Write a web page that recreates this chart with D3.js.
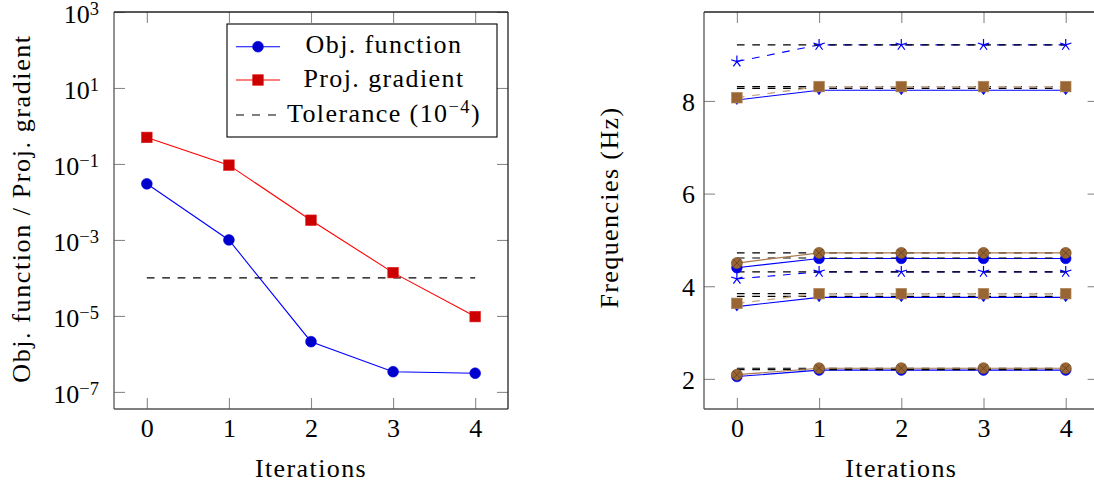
<!DOCTYPE html>
<html><head><meta charset="utf-8">
<script src="https://cdn.jsdelivr.net/npm/d3@7"></script>
<style>
html,body{margin:0;padding:0;background:#fff;}
svg{display:block;}
text{font-family:"Liberation Serif","Times New Roman",serif;fill:#000;}
.word{letter-spacing:1.4px;}
</style></head>
<body>
<svg id="chart" width="1094" height="485"></svg>
<script>
// ---------- data ----------
const iterations = [0, 1, 2, 3, 4];
const objFunction = [3.0e-2, 1.0e-3, 2.1e-6, 3.4e-7, 3.1e-7];
const projGradient = [0.5, 0.093, 3.3e-3, 1.38e-4, 9.6e-6];
const tolerance = 1e-4;
const logTickExponents = [3, 1, -1, -3, -5, -7];

const freqTicks = [2, 4, 6, 8];
// blue model
const blueCircleModes = [
  [2.05, 2.19, 2.19, 2.19, 2.19],
  [4.40, 4.60, 4.60, 4.60, 4.60]
];
const blueDiamondModes = [
  [3.56, 3.76, 3.76, 3.76, 3.76],
  [8.02, 8.23, 8.23, 8.23, 8.23]
];
const blueStarModes = [
  [4.16, 4.31, 4.31, 4.31, 4.31],
  [8.85, 9.21, 9.21, 9.21, 9.21]
];
// brown model
const brownOtimesModes = [
  [2.09, 2.23, 2.23, 2.23, 2.23],
  [4.50, 4.72, 4.72, 4.72, 4.72]
];
const brownSquareModes = [
  [3.63, 3.84, 3.84, 3.84, 3.84],
  [8.07, 8.31, 8.31, 8.31, 8.31]
];
// target frequencies (black dashed)
const targetFreqs = [2.23, 2.20, 3.84, 3.78, 4.31, 4.72, 4.61, 8.31, 8.27, 9.21];

// ---------- setup ----------
const svg = d3.select("#chart");
const TICK = 11;
const dashA = "7.7,7.7";
const BLUE = "#0000ff", BLUEF = "#0000cc", RED = "#ff0000", REDF = "#cc0000";
const BROWNF = "#996633", BROWND = "#5e3f1f", TAN = "#c8a882";

function frame(g, x0, x1, y0, y1) {
  g.append("line").attr("x1", x0).attr("x2", x0).attr("y1", y0).attr("y2", y1).attr("stroke", "#555").attr("stroke-width", 1.3);
  g.append("line").attr("x1", x0).attr("x2", x1).attr("y1", y1).attr("y2", y1).attr("stroke", "#555").attr("stroke-width", 1.3);
  g.append("line").attr("x1", x0).attr("x2", x1).attr("y1", y0).attr("y2", y0).attr("stroke", "#222").attr("stroke-width", 1.3);
  g.append("line").attr("x1", x1).attr("x2", x1).attr("y1", y0).attr("y2", y1).attr("stroke", "#222").attr("stroke-width", 1.3);
}
function styleAxis(sel) {
  sel.select(".domain").remove();
  sel.selectAll(".tick line").attr("stroke", "#8a8a8a").attr("stroke-width", 1.1);
  sel.selectAll(".tick text").attr("font-size", 26).attr("font-family", "Liberation Serif, serif").attr("fill", "#000");
}
function starPath(r) {
  let p = "";
  for (let k = 0; k < 5; k++) {
    const a = -Math.PI / 2 + k * 2 * Math.PI / 5;
    p += `M0,0L${(r * Math.cos(a)).toFixed(2)},${(r * Math.sin(a)).toFixed(2)}`;
  }
  return p;
}

// ================= LEFT CHART =================
const L = {x0: 114, x1: 508, y0: 12, y1: 409};
const xL = d3.scaleLinear().domain([-0.4, 4.4]).range([L.x0, L.x1]);
const yL = d3.scaleLog().domain([Math.pow(10, -7.45), 1e3]).range([L.y1, L.y0]);
const gL = svg.append("g");

const logTicks = logTickExponents.map(e => Math.pow(10, e));
const axB = gL.append("g").attr("transform", `translate(0,${L.y1})`)
  .call(d3.axisBottom(xL).tickValues(iterations).tickSize(-TICK).tickPadding(9.5).tickFormat(d3.format("d")));
styleAxis(axB);
const axT = gL.append("g").attr("transform", `translate(0,${L.y0})`)
  .call(d3.axisTop(xL).tickValues(iterations).tickSize(-TICK).tickFormat(""));
styleAxis(axT);
const axLft = gL.append("g").attr("transform", `translate(${L.x0},0)`)
  .call(d3.axisLeft(yL).tickValues(logTicks).tickSize(-TICK).tickPadding(15).tickFormat(""));
styleAxis(axLft);
axLft.selectAll(".tick text").attr("dy", "0.42em").each(function(d) {
  const t = d3.select(this);
  const e = Math.round(Math.log10(d));
  t.text(null);
  t.append("tspan").text("10");
  t.append("tspan").attr("dy", -8).attr("font-size", 18.5).text(e < 0 ? "\u2212" + (-e) : String(e));
});
const axR = gL.append("g").attr("transform", `translate(${L.x1},0)`)
  .call(d3.axisRight(yL).tickValues(logTicks).tickSize(-TICK).tickFormat(""));
styleAxis(axR);
frame(gL, L.x0, L.x1, L.y0, L.y1);

gL.append("line").attr("x1", xL(iterations[0])).attr("x2", xL(iterations[iterations.length - 1]))
  .attr("y1", yL(tolerance)).attr("y2", yL(tolerance))
  .attr("stroke", "#000").attr("stroke-width", 1.2).attr("stroke-dasharray", dashA);

const lineL = d3.line().x((d, i) => xL(iterations[i])).y(d => yL(d));
gL.append("path").attr("d", lineL(projGradient)).attr("fill", "none").attr("stroke", RED).attr("stroke-width", 1.1);
gL.append("path").attr("d", lineL(objFunction)).attr("fill", "none").attr("stroke", BLUE).attr("stroke-width", 1.1);
gL.selectAll(".sq").data(projGradient).enter().append("rect")
  .attr("x", (d, i) => xL(iterations[i]) - 5.3).attr("y", d => yL(d) - 5.3)
  .attr("width", 10.6).attr("height", 10.6).attr("fill", REDF).attr("stroke", "#e02020").attr("stroke-width", 0.6);
gL.selectAll(".ci").data(objFunction).enter().append("circle")
  .attr("cx", (d, i) => xL(iterations[i])).attr("cy", d => yL(d)).attr("r", 5.4)
  .attr("fill", BLUEF).attr("stroke", "#0000e0").attr("stroke-width", 0.6);

// legend
const lg = gL.append("g");
lg.append("rect").attr("x", 227).attr("y", 24).attr("width", 270).attr("height", 113)
  .attr("fill", "#fff").attr("stroke", "#000").attr("stroke-width", 1.1);
const legendItems = [
  {label: "Obj. function", y: 46.7, base: 53, type: "circle"},
  {label: "Proj. gradient", y: 80, base: 87, type: "square"},
  {label: "Tolerance", y: 115, base: 122, type: "dash"}
];
legendItems.forEach(it => {
  if (it.type === "circle") {
    lg.append("line").attr("x1", 236).attr("x2", 280).attr("y1", it.y).attr("y2", it.y).attr("stroke", BLUE).attr("stroke-width", 1.1);
    lg.append("circle").attr("cx", 258).attr("cy", it.y).attr("r", 5.4).attr("fill", BLUEF).attr("stroke", "#0000e0").attr("stroke-width", 0.6);
  } else if (it.type === "square") {
    lg.append("line").attr("x1", 236).attr("x2", 280).attr("y1", it.y).attr("y2", it.y).attr("stroke", RED).attr("stroke-width", 1.1);
    lg.append("rect").attr("x", 258 - 5.3).attr("y", it.y - 5.3).attr("width", 10.6).attr("height", 10.6).attr("fill", REDF).attr("stroke", "#e02020").attr("stroke-width", 0.6);
  } else {
    lg.append("line").attr("x1", 236).attr("x2", 278).attr("y1", it.y).attr("y2", it.y).attr("stroke", "#000").attr("stroke-width", 1.2).attr("stroke-dasharray", "8,8");
  }
  const t = lg.append("text").attr("class", "word").attr("x", 384).attr("y", it.base)
    .attr("text-anchor", "middle").attr("font-size", 26);
  if (it.type === "dash") {
    t.append("tspan").text("Tolerance (10");
    t.append("tspan").attr("dy", -9).attr("font-size", 18.5).text("\u22124");
    t.append("tspan").attr("dy", 9).text(")");
  } else {
    t.text(it.label);
  }
});

gL.append("text").attr("class", "word").attr("font-size", 26).attr("text-anchor", "middle")
  .attr("transform", `translate(${(L.x0 + L.x1) / 2},477)`).text("Iterations");
gL.append("text").attr("class", "word").attr("font-size", 26).attr("text-anchor", "middle")
  .style("letter-spacing", "1.6px")
  .attr("transform", `translate(30,${(L.y0 + L.y1) / 2 - 2}) rotate(-90)`).text("Obj. function / Proj. gradient");

// ================= RIGHT CHART =================
const R = {x0: 704, x1: 1098.6, y0: 12, y1: 409};
const xR = d3.scaleLinear().domain([-0.4, 4.4]).range([R.x0, R.x1]);
const yR = d3.scaleLinear().domain([1.35, 9.92]).range([R.y1, R.y0]);
const gR = svg.append("g");

const rB = gR.append("g").attr("transform", `translate(0,${R.y1})`)
  .call(d3.axisBottom(xR).tickValues(iterations).tickSize(-TICK).tickPadding(9.5).tickFormat(d3.format("d")));
styleAxis(rB);
const rT = gR.append("g").attr("transform", `translate(0,${R.y0})`)
  .call(d3.axisTop(xR).tickValues(iterations).tickSize(-TICK).tickFormat(""));
styleAxis(rT);
const rL = gR.append("g").attr("transform", `translate(${R.x0},0)`)
  .call(d3.axisLeft(yR).tickValues(freqTicks).tickSize(-TICK).tickPadding(9).tickFormat(d3.format("d")));
styleAxis(rL);
rL.selectAll(".tick text").attr("dy", "0.36em");
const rR = gR.append("g").attr("transform", `translate(${R.x1},0)`)
  .call(d3.axisRight(yR).tickValues(freqTicks).tickSize(-TICK).tickFormat(""));
styleAxis(rR);
frame(gR, R.x0, R.x1, R.y0, R.y1);

const lineR = d3.line().x((d, i) => xR(iterations[i])).y(d => yR(d));
const xFirst = xR(iterations[0]), xLast = xR(iterations[iterations.length - 1]);

blueCircleModes.concat(blueDiamondModes).forEach(m => {
  gR.append("path").attr("d", lineR(m)).attr("fill", "none").attr("stroke", BLUE).attr("stroke-width", 1.1);
});
blueStarModes.forEach(m => {
  gR.append("path").attr("d", lineR(m)).attr("fill", "none").attr("stroke", BLUE).attr("stroke-width", 1.1).attr("stroke-dasharray", dashA);
});
gR.selectAll(".tgt").data(targetFreqs).enter().append("line")
  .attr("x1", xFirst).attr("x2", xLast).attr("y1", d => yR(d)).attr("y2", d => yR(d))
  .attr("stroke", "#000").attr("stroke-width", 1.2).attr("stroke-dasharray", dashA);
blueCircleModes.forEach(m => {
  m.forEach((v, i) => gR.append("circle").attr("cx", xR(iterations[i])).attr("cy", yR(v)).attr("r", 5.3)
    .attr("fill", "#0000e6").attr("stroke", BLUE).attr("stroke-width", 0.6));
});
blueDiamondModes.forEach(m => {
  m.forEach((v, i) => {
    const cx = xR(iterations[i]), cy = yR(v);
    gR.append("path").attr("d", `M${cx},${cy - 4.5}L${cx + 3.2},${cy}L${cx},${cy + 4.5}L${cx - 3.2},${cy}Z`)
      .attr("fill", "#0000e6").attr("stroke", BLUE).attr("stroke-width", 0.6);
  });
});
blueStarModes.forEach(m => {
  m.forEach((v, i) => gR.append("path").attr("transform", `translate(${xR(iterations[i])},${yR(v)})`)
    .attr("d", starPath(6)).attr("fill", "none").attr("stroke", BLUE).attr("stroke-width", 1.2));
});
brownOtimesModes.forEach(m => {
  gR.append("path").attr("d", lineR(m)).attr("fill", "none").attr("stroke", "#a87a4c").attr("stroke-width", 1.2);
});
brownSquareModes.forEach(m => {
  gR.append("path").attr("d", lineR(m)).attr("fill", "none").attr("stroke", TAN).attr("stroke-width", 1.4).attr("stroke-dasharray", dashA);
});
brownOtimesModes.forEach(m => {
  m.forEach((v, i) => {
    const cx = xR(iterations[i]), cy = yR(v), r = 5.5, q = r * 0.7071;
    gR.append("circle").attr("cx", cx).attr("cy", cy).attr("r", r).attr("fill", BROWNF).attr("stroke", "#7a5229").attr("stroke-width", 0.7);
    gR.append("path").attr("d", `M${cx - q},${cy - q}L${cx + q},${cy + q}M${cx - q},${cy + q}L${cx + q},${cy - q}`)
      .attr("stroke", BROWND).attr("stroke-width", 0.8);
  });
});
brownSquareModes.forEach(m => {
  m.forEach((v, i) => gR.append("rect").attr("x", xR(iterations[i]) - 5.3).attr("y", yR(v) - 5.3)
    .attr("width", 10.6).attr("height", 10.6).attr("fill", BROWNF).attr("stroke", "#b08a62").attr("stroke-width", 0.7));
});

gR.append("text").attr("class", "word").attr("font-size", 26).attr("text-anchor", "middle")
  .attr("transform", `translate(${xR(2)},477)`).text("Iterations");
gR.append("text").attr("class", "word").attr("font-size", 26).attr("text-anchor", "middle")
  .attr("transform", `translate(618,${(R.y0 + R.y1) / 2 - 3}) rotate(-90)`).text("Frequencies (Hz)");
</script>
</body></html>
